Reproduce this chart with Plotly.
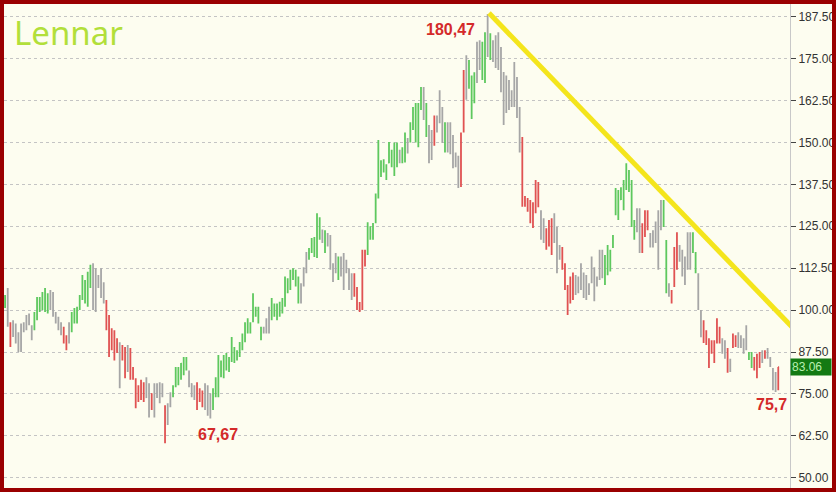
import plotly.graph_objects as go

# ---- data ----
highs = [104.5,106.6,96.4,97,96,93.4,96,96.4,98.5,99,95.5,99.4,103.9,103.9,105.4,106.6,105,106,105.4,99.4,
         98,96.4,95,92.5,96.4,99.4,100.6,101,104.5,110.5,109,111.4,113.5,114,112.5,110.5,112.5,108.3,103,98.5,
         94.6,94,91.6,90.4,89.6,89,89.6,88.7,83,79.7,77.6,79.2,78.5,80,78.2,75.2,78.2,78.2,78.5,78.2,
         71.6,72.2,75.5,77.6,83,83,84.2,86,86,82,78.2,77.6,78.5,76.7,76,78.2,77.6,75.2,76.7,80,
         86.6,85,86.6,87.2,86,92,89,88,90.5,93,96.4,97.6,96.4,105,101,101,95,95,97.6,101,
         103.6,102,102,102.5,103.6,110,109.5,112,112.5,112,110,108,112.8,117.3,118.5,121.5,121.8,128.9,127.7,124,
         123.8,123,122.4,114,117,116,116,117,115,112.5,111,111,106.9,102.4,118,118,126.2,125,126,134.8,
         150.7,144.7,145,143.5,150.1,147.8,150,150,147.8,148.6,153,151.3,156,160.6,161.8,161.8,166.5,166.5,161.8,155.2,
         153.7,158,158,165.6,160.6,156,156,156,152.2,147,146,153,171.6,176,174.6,170,170.9,180,180.5,180,
         182.9,188.3,
         182.6,180.5,182,182.9,178.5,171,170,168.6,165.6,174,169.5,160.6,151.6,134,133.4,132.8,132.2,138.8,138.2,129.8,
         127.4,124.4,126.9,127.4,128.9,124.8,119.4,118.8,114,107.5,110,111.2,110.5,110,114,111.2,110.5,108,116,112.8,
         110,118,118,116.4,119.4,118,122.4,136.4,135.8,136.6,138.8,143.8,141.8,138.8,126.9,130.4,130.4,125.9,129.8,129.8,
         123,123.8,126.4,129.8,132.8,132.8,120.9,108,106,118.8,123.2,119.4,118,116,123.2,123.2,123.2,117.3,111,100,
         97,94,91.6,91,91,97.6,95,91.6,91,88.7,85.5,93,92.5,93.4,92.5,91.6,95.5,87.5,87.5,86,
         87,87.5,88,88,88.7,86,82.7,81.5,83.06]
lows = [100.6,95,89,92,90,87.5,87.5,93.4,94,95.5,91,94,97,99.4,100,99.4,99,100,98,96,
        94,92.5,90,88,90,93.4,96,96,100,103,102,101,106.6,100,99.4,106.6,103.6,102,94,86,
        88,85,87.2,76.7,85,79.7,81.5,79.2,79.2,70.7,72.6,73.2,72.6,73.8,68,70.2,68,73.8,72.2,74,
        60.3,65.7,71,74,77,77.6,79.2,80.6,82,77,74,73.2,70.2,72.6,71,70.2,68.5,67.7,70.2,74,
        74,80,79.7,82,81.5,84.5,84.2,85,86,88,90.4,93,93,96.4,98,96,91,93,93,93,
        97,98,97,98,99,101,105,106,109,107,102,102,107,111,115,117,115.8,115.5,121,120,
        117,119,112,108.4,111,109,110,106,111,106,103,104,100,99.4,100,113,116.4,121,121,125.9,
        133.3,139.7,141,138.8,143.8,142.6,140,142.6,143.8,143.8,144,146.7,150,153.7,150,148.6,159.7,156.7,151.6,143.8,
        144.8,149,153,155.7,149.8,147,147,146.5,142.3,142.6,136.4,136.7,153,162.7,166,157,161.7,167.7,171.6,168.6,
        167.7,175.5,
        174.6,174,172.2,171.6,165,155.2,158.8,159.7,160.6,160.6,157.3,147,130.8,130.8,129.3,125.9,124.5,128.9,130.7,121,
        120,118,119,116.4,120,111,115,112,106,98.5,102,103,104.5,105,106,103.6,103,104.5,108,102.6,
        107,109,109.5,107.5,110.4,111.5,118.5,128.3,126.9,132.8,129.8,135.8,135.2,124.8,121,123.2,117,117,121.8,123.8,
        118.7,118.7,120,112,123.8,124.8,105,104,102,106.9,112,114.4,110,107.5,112,112,117,111,100,91.9,
        90.2,89.6,82.7,87,84.2,90,90,87,85.5,81.3,81.5,88.7,89,88.7,88.7,87,88,85.1,82.7,82,
        79.7,82.7,84.2,85.5,85.5,83,76.1,75.6,76.1]
opens = [101.5,103,96,93,95,92,89,94,95,98,95,94.5,98,100,101,101,100,104,101,99,
         97,95,94,91,90.5,94,97,97,100.5,104,103,102,107,113,100,110,104,108,102,97,
         94,93,91,88,89,88,82,88,82.5,79,77,78.5,78,74,77.5,75,69,77.5,73,77.5,
         71,66.5,71.5,74.5,77.5,78,80,81,82.5,81.5,78,74,78,76,75.5,71,77,68.5,71,74.5,
         75,80.5,80.5,82.5,82,85,85,85.5,86.5,88.5,91,93.5,93.5,97,98.5,96.5,94.5,93.5,93.5,94,
         97.5,98.5,97.5,98.5,99.5,101.5,105.5,106.5,109.5,111.5,109.5,102.5,107.5,111.5,115.5,117.5,121,116,127,121,
         123,119.5,122,113.5,111.5,115.5,110.5,114,111.5,112,110.5,110,106.5,102,100.5,113.5,117,121.5,121.5,126.5,
         134,140,141.5,139.5,144,147,141,143,147,144.5,144.5,147,150.5,154,151,160,160,165.5,160.5,154.5,
         145.5,150,153.5,156.5,160,148,155,147.5,151.5,146.5,145.5,137.5,154,163.5,167,169,162.5,168.5,172,179,
         168.5,182,
         177,180,174,181,173,167,159.5,168,161,165,169,160,148,133.5,133,132,131.5,129.5,137.5,129.5,
         127,124,119.5,126.5,121,124,119,118,113.5,107,102.5,110,105,109.5,107,110.5,104,107.5,108.5,112,
         107.5,109.5,110,108,111,112,119,129,127.5,133,130.5,136.5,136,138,121.5,130,130,125.5,122.5,129,
         122.5,119,125.5,113,124.5,132,120.5,107.5,105.5,107.5,122.5,115,117.5,108,113,113,122.5,117,110.5,99.5,
         96.5,93.5,91,90.5,90.5,90.5,94.5,91,86,88,85,89,92,89,92,87.5,88.5,87,87,85.5,
         80.5,87,84.5,87.5,86,85.5,82,80.5,77]
closes = [104,97,90,96,91,89,95,96,98,96,92,99,103,103,105,106,104,101,99,97,
          95,93,91,89,96,99,100,100.5,104,110,108,111,113,101,111,107,112,103,95,87,
          89,86,88,80,86,81,89,80,80,71.5,73,74,73,79,69,71,77,74.5,78,74.5,
          61.5,71.5,75,77,82.5,82,84,85.5,85.5,77.5,74.5,77,71,73,71.5,77.5,69.5,74.5,76,79.5,
          86,84.5,86,86.5,85.5,91.5,88.5,87.5,90,92.5,96,97,96,104.5,100.5,100.5,91.5,94.5,97,100.5,
          103,101.5,101.5,102,103,109.5,109,111.5,112,107.5,103,107.5,112.5,117,118,121,116.5,128,121.5,123.5,
          118,122.5,113,109,116.5,110,115,107,114.5,107,104,105,101,100,117.5,117.5,125.5,124.5,125.5,134,
          149,144,144.5,143,149.5,143,149.5,149.5,144.5,148,152.5,151,155.5,160,161,150,166,157.5,152.5,145,
          153,157,157.5,165,150.5,155,148,155,143,143,137,152,171,175,174,158,170,179.5,180,169.5,
          182,177,
          181,175,181,173,166.5,157,169,161,165,172,158.5,148,132,131.5,130,126.5,125.5,137.5,131.5,122,
          121,119,126,117.5,128,112,115.5,113,107,99.5,109,104,110,106,113,104.5,109.5,105,115,103.5,
          109.5,117.5,117,115.5,119,117.5,122,136,135,136,138,143,141,125.5,126.5,124,118,117.5,129,124.5,
          119.5,123,121,129,132,125.5,106,104.5,102.5,118,113,119,111,115,122.5,122.5,118,111.5,101,92.5,
          91,90,83.5,87.5,85,97,90.5,87.5,90.5,82,82,92.5,89.5,93,89,91,95,85.5,83.5,82.5,
          86.5,83.5,87.5,86,88,83.5,77,76.5,83.06]
colors = ("gnrnnnnnnnn" "gggggg" "nnnnn" "rr" "n" "gggggggg" "nnnnn" "rrrrr" "n" "rr" "n" "rrrrrr" "nn" "r" "nnnn" "r"
          "nn" "gggggg" "nnn" "rrr" "nnn" "ggggggggggggggggggg" "nnn" "ggggggggggg" "nnn" "ggggg" "n" "g" "nnnn" "g"
          "nnnnn" "rrrrr" "gggggggggggg" "n" "gg" "n" "ggggg" "n" "g" "nn" "r" "nnn" "g" "nnnnn" "rr" "n"
          "ggg" "nn" "gg" "n" "g" "n"
          "nnnnnnnnnn" "rrrrrrr" "nn" "rrr" "nnn" "rrrrr" "nnnnnnnnnnn" "gggggggggggg" "nn" "rrr" "nnnnn" "gg" "n"
          "rrr" "nnnnn" "gg" "nn" "rrrrrrr" "nn" "r" "n" "rr" "nnnn" "gg" "rrr" "n" "r" "nnnn" "rr" "n")
price_labels = ["180,47", "67,67", "75,7"]
label_pos = [(166.9, 183.8), (79.9, 63.0), (287.3, 71.7)]
trend_x = [181.5, 298.0]
trend_y = [188.6, 92.6]
last_price = 83.06
y_ticks = [50, 62.5, 75, 87.5, 100, 112.5, 125, 137.5, 150, 162.5, 175, 187.5]

n = len(highs)
idx = list(range(n))
palette = {"g": "#5ec85e", "r": "#e05252", "n": "#a6a6a6"}

fig = go.Figure()
for code, col in palette.items():
    sel = [i for i in idx if i < len(colors) and colors[i] == code]
    fig.add_trace(go.Ohlc(
        x=sel,
        open=[opens[i] for i in sel], high=[highs[i] for i in sel],
        low=[lows[i] for i in sel], close=[closes[i] for i in sel],
        increasing=dict(line=dict(color=col, width=1.8)),
        decreasing=dict(line=dict(color=col, width=1.8)),
        tickwidth=0.3, showlegend=False, hoverinfo="skip"))

fig.add_trace(go.Scatter(x=trend_x, y=trend_y, mode="lines",
                         line=dict(color="#f4e51c", width=5), showlegend=False, hoverinfo="skip"))

W, H = 836, 492
ml, mr, mt, mb = 4, 46, 4, 4
pw, ph = W - ml - mr, H - mt - mb

fig.update_layout(
    width=W, height=H,
    margin=dict(l=ml, r=mr, t=mt, b=mb),
    paper_bgcolor="#fdfdf0", plot_bgcolor="#fdfdf0",
    hovermode=False,
    xaxis=dict(range=[-0.4, 294.4], visible=False, rangeslider=dict(visible=False), fixedrange=True),
    yaxis=dict(range=[46.94, 191.29], side="right", tickvals=y_ticks, tickformat=".2f",
               showgrid=True, gridcolor="#c4c4c4", griddash="3px,3px", gridwidth=1,
               showline=True, linecolor="#c8c8c8", linewidth=1,
               ticks="outside", ticklen=5, tickcolor="#444",
               tickfont=dict(family="Liberation Sans", size=12, color="#333333"),
               zeroline=False, automargin=False, fixedrange=True),
    font=dict(family="Liberation Sans"),
)

ann = [dict(text="Lennar", xref="paper", yref="paper", x=(12 - ml) / pw, y=1 - (8 - mt) / ph,
            xanchor="left", yanchor="top", showarrow=False,
            font=dict(family="Noto Sans", size=33, color="#b2df3a"))]
for t, (px_, py_) in zip(price_labels, label_pos):
    ann.append(dict(text="<b>%s</b>" % t, x=px_, y=py_, xref="x", yref="y", showarrow=False,
                    font=dict(family="Liberation Sans", size=16, color="#d42a2a")))
ann.append(dict(text="%.2f" % last_price, xref="paper", yref="y", x=1.0, y=last_price,
                xanchor="left", yanchor="middle", showarrow=False, align="left", width=38,
                bgcolor="#137a13", borderpad=1,
                font=dict(family="Liberation Sans", size=12, color="#b8f0b0")))
fig.update_layout(annotations=ann)

# outer frame
fig.add_shape(type="rect", xref="paper", yref="paper", layer="above",
              x0=(2 - ml) / pw, x1=(W - 2 - ml) / pw, y0=-(2) / ph, y1=1 + 2 / ph,
              line=dict(color="#9a0000", width=4))

fig.write_html("out.html", config={"displayModeBar": False, "staticPlot": True},
               post_script="document.body.style.margin='0';document.body.style.overflow='hidden';")
